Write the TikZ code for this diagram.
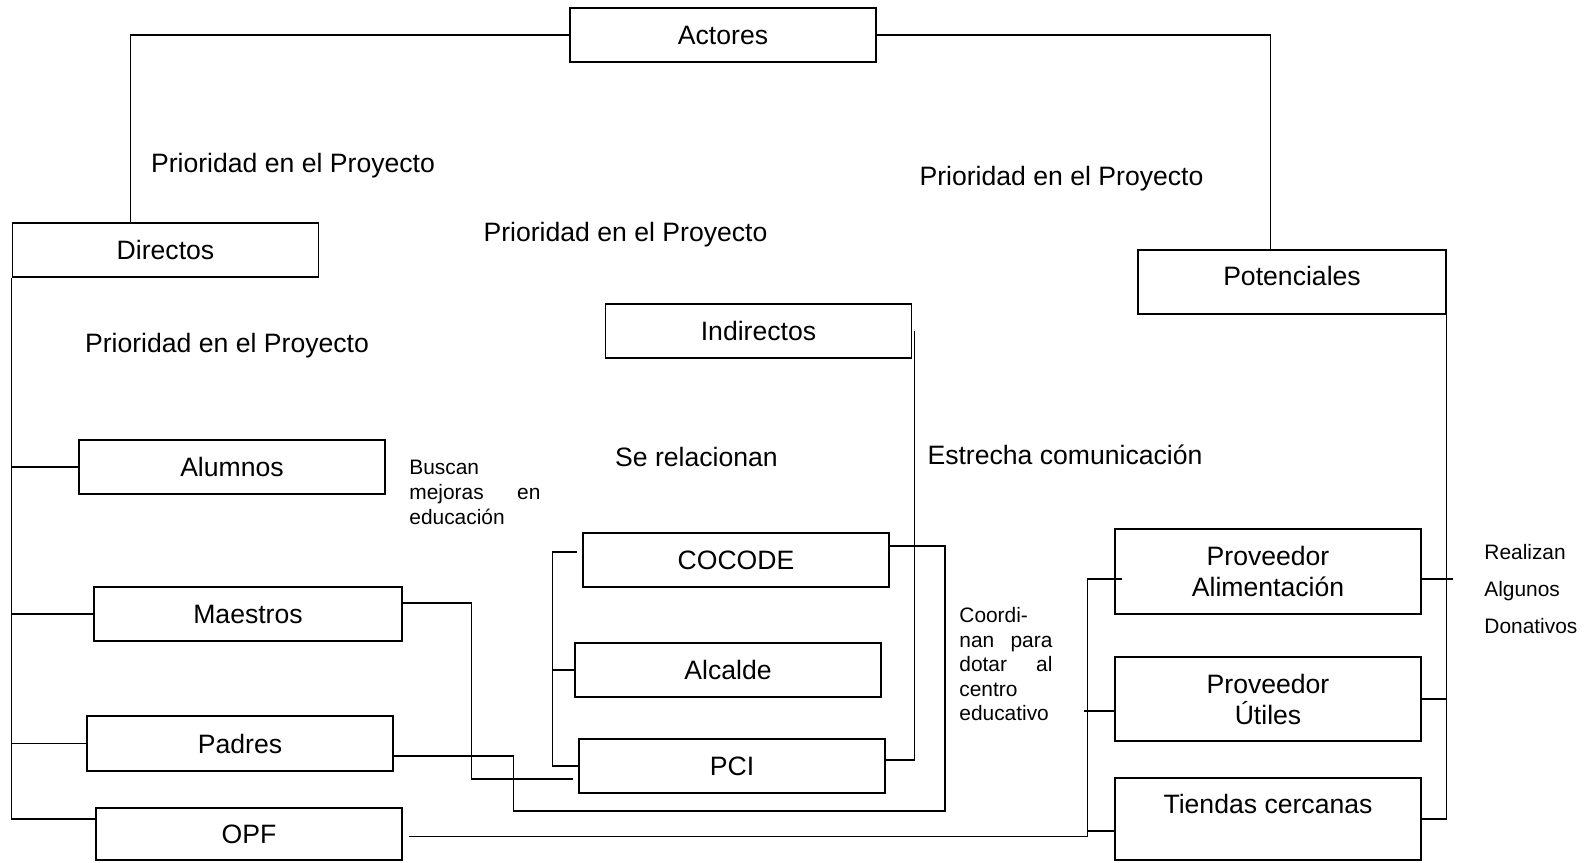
\documentclass[tikz,border=0pt]{standalone}
\usepackage{fontspec}
\setmainfont{Liberation Sans}
\begin{document}
\begin{tikzpicture}[x=0.5pt,y=-0.5pt,
  bx/.style={draw, line width=0.8pt, inner sep=0pt, minimum width=153pt, minimum height=27pt, font=\fontsize{13.3}{15.5}\selectfont, align=center},
  cn/.style={line width=0.6pt},
  lbl/.style={inner sep=0pt, font=\fontsize{13.3}{16}\selectfont},
  sm/.style={inner sep=0pt, font=\fontsize{10.45}{12.5}\selectfont, align=left, anchor=north west}]
\useasboundingbox (0,0) rectangle (1590,862);

% boxes
\node[bx] (actores) at (723,35) {Actores};
\node[bx] (directos) at (165.5,250) {Directos};
\node[bx, minimum width=154pt, minimum height=32pt] (potenciales) at (1292,282) {\raisebox{3pt}[\height][\depth]{Potenciales}};
\node[bx] (indirectos) at (758.5,331) {Indirectos};
\node[bx] (alumnos) at (232,467) {Alumnos};
\node[bx, minimum width=154pt] (maestros) at (248,614) {Maestros};
\node[bx, minimum height=27.5pt] (padres) at (240,743.5) {Padres};
\node[bx, minimum height=26pt] (opf) at (249,834) {OPF};
\node[bx] (cocode) at (736,560) {COCODE};
\node[bx] (alcalde) at (728,670) {Alcalde};
\node[bx] (pci) at (732,766) {PCI};
\node[bx, minimum height=42.5pt] (alim) at (1268,571.5) {Proveedor\\Alimentación};
\node[bx, minimum height=42pt] (utiles) at (1268,699) {Proveedor\\Útiles};
\node[bx, minimum height=41pt] (tiendas) at (1268,819) {\raisebox{7.5pt}[\height][\depth]{Tiendas cercanas}};

% labels
\node[lbl] (p1) at (293,166) {Prioridad en el Proyecto};
\node[lbl] (p2) at (1061.5,179) {Prioridad en el Proyecto};
\node[lbl] (p3) at (625.5,235) {Prioridad en el Proyecto};
\node[lbl] (p4) at (227,346) {Prioridad en el Proyecto};
\node[lbl] (rel) at (696.5,457) {Se relacionan};
\node[lbl] (estr) at (1065,455) {Estrecha comunicación};
\node[sm, text width=65.5pt] (busc) at (409,460) {Buscan\\mejoras\hfill en\\educación};
\node[sm, text width=46.5pt, font=\fontsize{10.45}{12.25}\selectfont] (coord) at (959,607) {Coordi-\\nan\hfill para\\dotar\hfill al\\centro\\educativo};
\node[sm, font=\fontsize{10.45}{18.5}\selectfont] (real) at (1484,544) {Realizan\\Algunos\\Donativos};

% connectors
\draw[cn] (actores.west) -| ([xshift=59.5pt]directos.north west);
\draw[cn] (actores.east) -| ([xshift=66.5pt]potenciales.north west);

\draw[cn] (directos.south west) |- ([yshift=7.5pt]opf.west);
\draw[cn] (alumnos.west) -- (alumnos.west -| directos.south west);
\draw[cn] (maestros.west) -- (maestros.west -| directos.south west);
\draw[cn] (padres.west) -- (padres.west -| directos.south west);

\coordinate (cr) at (945,811);
\draw[cn] ([yshift=5.5pt]maestros.east) -- ++(34.5pt,0) |- ([shift={(-2.5pt,-6.5pt)}]pci.west);
\draw[cn] ([yshift=-6.25pt]padres.east) -- ++(60pt,0) |- (cr) |- ([yshift=7pt]cocode.east);
\draw[cn] ([xshift=1pt]indirectos.east) |- ([yshift=3pt]pci.east);

\draw[cn] ([shift={(-2.5pt,4pt)}]cocode.west) -- ++(-12.5pt,0) coordinate (bl) |- (pci.west);
\draw[cn] (alcalde.west) -- (alcalde.west -| bl);

\draw[cn] (potenciales.south east) |- (tiendas.east);
\draw[cn] ([yshift=-3.75pt]alim.east) -- ++(15.5pt,0);
\draw[cn] (utiles.east) -- (utiles.east -| potenciales.south east);

\draw[cn] ([xshift=3pt,yshift=-1.25pt]opf.east) -| ([shift={(-13.5pt,-3.75pt)}]alim.west) -- ++(17.5pt,0);
\draw[cn] ([yshift=-6pt]utiles.west) -- ++(-15pt,0);
\draw[cn] ([yshift=-6pt]tiendas.west) -- ++(-13.5pt,0);
\end{tikzpicture}
\end{document}
